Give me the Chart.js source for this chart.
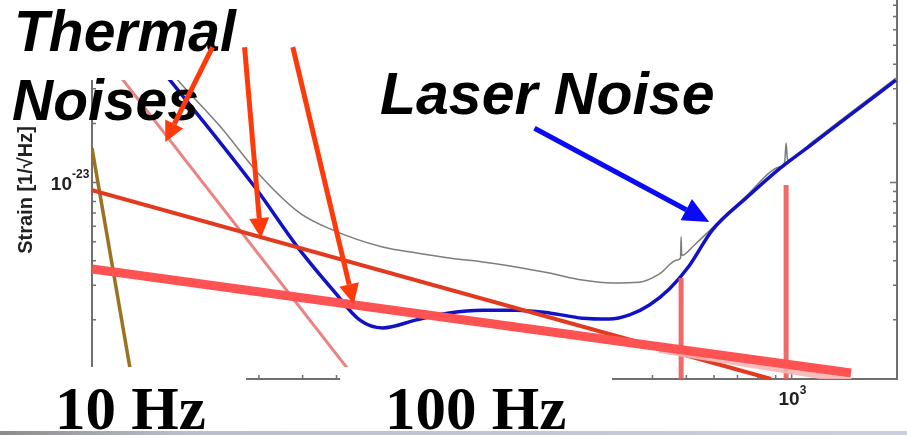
<!DOCTYPE html>
<html>
<head>
<meta charset="utf-8">
<title>Noise budget</title>
<script src="https://cdn.jsdelivr.net/npm/chart.js@4.4.0/dist/chart.umd.min.js"></script>
<style>
html,body{margin:0;padding:0;background:#fff;}
#wrap{width:907px;height:435px;position:relative;overflow:hidden;}
</style>
</head>
<body>
<div id="wrap"><canvas id="noiseChart" width="907" height="435"></canvas></div>
<script>
// frequency in Hz, strain in 1/sqrt(Hz)
var totalFreq   = [10.5, 17.6, 23.2, 30.2, 39.3, 48.8, 67.7, 84.7, 105, 131, 163, 203, 252, 307, 367, 418, 471, 481, 483, 485, 527, 593, 741, 920, 955, 964, 973, 1144, 1430, 1986];
var totalStrain = [1.0e-22, 3.32e-23, 1.94e-23, 1.09e-23, 6.99e-24, 5.73e-24, 4.70e-24, 4.38e-24, 4.13e-24, 3.94e-24, 3.72e-24, 3.46e-24, 3.19e-24, 3.08e-24, 3.11e-24, 3.42e-24, 4.03e-24, 4.12e-24, 5.3e-24, 4.25e-24, 4.81e-24, 5.87e-24, 8.54e-24, 1.20e-23, 1.27e-23, 1.59e-23, 1.30e-23, 1.608e-23, 2.18e-23, 3.40e-23];

var laserFreq   = [10, 16.7, 29.2, 39.3, 48.8, 58.2, 67.7, 84.7, 105, 131, 163, 203, 252, 301, 344, 392, 447, 509, 593, 741, 920, 1144, 1430, 1986];
var laserStrain = [1.0e-22, 3.32e-23, 9.49e-24, 4.53e-24, 2.84e-24, 2.00e-24, 1.82e-24, 2.00e-24, 2.17e-24, 2.24e-24, 2.24e-24, 2.17e-24, 2.04e-24, 2.02e-24, 2.12e-24, 2.38e-24, 2.87e-24, 3.76e-24, 5.73e-24, 8.34e-24, 1.171e-23, 1.571e-23, 2.13e-23, 3.32e-23];

var seismicFreq   = [10, 13.0];
var seismicStrain = [1.498e-23, 1.0e-24];

var suspFreq   = [10, 56.7];
var suspStrain = [5.31e-23, 1.0e-24];

var thermalFreq   = [10, 873];
var thermalStrain = [9.16e-24, 1.0e-24];

var coatingFreq   = [10, 1478];
var coatingStrain = [3.63e-24, 1.073e-24];

var coatingShadeFreq   = [418, 1478];
var coatingShadeStrain = [1.405e-24, 0.977e-24];

var violinFreq = [483, 964];
var violinTop  = [3.27e-24, 9.71e-24];

// axis ticks
var xMajor = [10, 100, 1000];
var xMinor = [20, 30, 40, 50, 60, 70, 80, 90, 200, 300, 400, 500, 600, 700, 800, 900, 2000];
var yMajor = [1e-24, 1e-23];
var yMinor = [2e-24, 3e-24, 4e-24, 5e-24, 6e-24, 7e-24, 8e-24, 9e-24, 2e-23, 3e-23, 4e-23, 5e-23, 6e-23, 7e-23, 8e-23];
var yLabelValue = [1e-23];
var yLabelExp   = ['-23'];
var xLabelValue = [1000];
var xLabelExp   = ['3'];

// annotation arrows, in data units
var redArrowFromF = [22.1, 27.3, 37.5];
var redArrowFromH = [4.89e-23, 4.89e-23, 4.89e-23];
var redArrowToF   = [16.2, 30.4, 56.0];
var redArrowToH   = [1.61e-23, 5.22e-24, 2.41e-24];
var blueArrowFrom = [184, 1.89e-23];
var blueArrowTo   = [581, 6.30e-24];

function pts(fs, hs){
  var out = [];
  for(var i=0;i<fs.length;i++){ out.push({x: fs[i], y: hs[i]}); }
  return out;
}

function lineSet(data, color, width, order, smooth){
  return {
    data: data,
    showLine: true,
    borderColor: color,
    backgroundColor: color,
    borderWidth: width,
    pointRadius: 0,
    pointHoverRadius: 0,
    fill: false,
    clip: 0,
    order: order,
    cubicInterpolationMode: smooth ? 'monotone' : 'default',
    tension: 0,
    borderCapStyle: 'butt'
  };
}

var datasets = [
  lineSet(pts(totalFreq, totalStrain), '#7d7d7d', 1.5, 10, true),
  lineSet(pts(laserFreq, laserStrain), '#1212c4', 3.5, 9, true),
  lineSet(pts(seismicFreq, seismicStrain), '#9a7222', 3.5, 8, false),
  lineSet(pts(suspFreq, suspStrain), '#e88484', 3, 7, false)
];
for(var v=0; v<violinFreq.length; v++){
  datasets.push(lineSet([{x: violinFreq[v], y: violinTop[v]}, {x: violinFreq[v], y: 1e-24}], 'rgba(240,90,90,0.9)', 5, 6, false));
}
datasets.push(lineSet(pts(thermalFreq, thermalStrain), '#e2391f', 4, 4, false));
datasets.push(lineSet(pts(coatingShadeFreq, coatingShadeStrain), 'rgba(248,180,180,0.9)', 6, 3, false));
datasets.push(lineSet(pts(coatingFreq, coatingStrain), '#ff5252', 9, 2, false));

function arrow(ctx, x1, y1, x2, y2, color, w, head, half){
  var ang = Math.atan2(y2 - y1, x2 - x1);
  var bx = x2 - head * Math.cos(ang), by = y2 - head * Math.sin(ang);
  ctx.strokeStyle = color; ctx.lineWidth = w; ctx.lineCap = 'butt';
  ctx.beginPath(); ctx.moveTo(x1, y1); ctx.lineTo(bx, by); ctx.stroke();
  ctx.fillStyle = color;
  ctx.beginPath();
  ctx.moveTo(x2, y2);
  ctx.lineTo(bx + half * Math.sin(ang), by - half * Math.cos(ang));
  ctx.lineTo(bx - half * Math.sin(ang), by + half * Math.cos(ang));
  ctx.closePath(); ctx.fill();
}

var framePlugin = {
  id: 'frame',
  beforeDatasetsDraw: function(chart){
    var ctx = chart.ctx, a = chart.chartArea, xs = chart.scales.x, ys = chart.scales.y;
    ctx.save();
    ctx.strokeStyle = '#707070';
    ctx.lineWidth = 2;
    ctx.beginPath();
    ctx.moveTo(a.left, a.top); ctx.lineTo(a.left, a.bottom);
    ctx.lineTo(a.right, a.bottom); ctx.lineTo(a.right, a.top);
    ctx.stroke();
    ctx.lineWidth = 1.5;
    ctx.beginPath();
    var i, px, py;
    for(i=0;i<xMajor.length;i++){ px = xs.getPixelForValue(xMajor[i]); ctx.moveTo(px, a.bottom); ctx.lineTo(px, a.bottom - 7); }
    for(i=0;i<xMinor.length;i++){ px = xs.getPixelForValue(xMinor[i]); ctx.moveTo(px, a.bottom); ctx.lineTo(px, a.bottom - 4); }
    for(i=0;i<yMajor.length;i++){
      py = ys.getPixelForValue(yMajor[i]);
      ctx.moveTo(a.left, py); ctx.lineTo(a.left + 7, py);
      ctx.moveTo(a.right, py); ctx.lineTo(a.right - 7, py);
    }
    for(i=0;i<yMinor.length;i++){
      py = ys.getPixelForValue(yMinor[i]);
      ctx.moveTo(a.left, py); ctx.lineTo(a.left + 4, py);
      ctx.moveTo(a.right, py); ctx.lineTo(a.right - 4, py);
    }
    ctx.stroke();

    // tick labels
    ctx.fillStyle = '#222';
    ctx.textBaseline = 'alphabetic';
    for(i=0;i<yLabelValue.length;i++){
      py = ys.getPixelForValue(yLabelValue[i]);
      ctx.font = 'bold 19px "Liberation Sans", Arial, sans-serif';
      ctx.textAlign = 'right';
      ctx.fillText('10', a.left - 20, py + 7);
      ctx.font = 'bold 12px "Liberation Sans", Arial, sans-serif';
      ctx.textAlign = 'left';
      ctx.fillText(yLabelExp[i], a.left - 20, py - 5);
    }
    for(i=0;i<xLabelValue.length;i++){
      px = xs.getPixelForValue(xLabelValue[i]);
      ctx.font = 'bold 19px "Liberation Sans", Arial, sans-serif';
      ctx.textAlign = 'right';
      ctx.fillText('10', px + 8, a.bottom + 26);
      ctx.font = 'bold 12px "Liberation Sans", Arial, sans-serif';
      ctx.textAlign = 'left';
      ctx.fillText(xLabelExp[i], px + 8, a.bottom + 15);
    }

    // axis title
    ctx.save();
    ctx.translate(32, 190);
    ctx.rotate(-Math.PI / 2);
    ctx.font = 'bold 20px "Liberation Sans", Arial, sans-serif';
    ctx.textAlign = 'center';
    ctx.fillStyle = '#222';
    ctx.fillText('Strain [1/\u221AHz]', 0, 0);
    ctx.restore();
    ctx.restore();
  },
  afterDraw: function(chart){
    var ctx = chart.ctx, xs = chart.scales.x, ys = chart.scales.y;
    ctx.save();
    // pasted slide boxes hide parts of the plot
    ctx.fillStyle = '#ffffff';
    ctx.fillRect(0, 0, 250, 80);
    ctx.fillRect(0, 367, 246, 66);
    ctx.fillRect(340, 367, 272, 66);

    var g = ctx.createLinearGradient(0, 0, 907, 0);
    g.addColorStop(0, '#8c8c8c');
    g.addColorStop(0.2, '#b9bfca');
    g.addColorStop(1, '#c9d0dc');
    ctx.fillStyle = g;
    ctx.fillRect(0, 431, 907, 4);

    ctx.fillStyle = '#000';
    ctx.textAlign = 'left';
    ctx.textBaseline = 'alphabetic';
    ctx.font = 'italic bold 57px "Liberation Sans", Arial, sans-serif';
    ctx.fillText('Thermal', 14, 51);
    ctx.fillText('Noises', 12, 120);
    ctx.font = 'italic bold 59px "Liberation Sans", Arial, sans-serif';
    ctx.fillText('Laser Noise', 380, 114);

    ctx.font = 'bold 61px "Liberation Serif", "Times New Roman", serif';
    ctx.fillText('10 Hz', 55, 429);
    ctx.fillText('100 Hz', 385, 429);

    for(var i=0;i<redArrowFromF.length;i++){
      arrow(ctx,
        xs.getPixelForValue(redArrowFromF[i]), ys.getPixelForValue(redArrowFromH[i]),
        xs.getPixelForValue(redArrowToF[i]), ys.getPixelForValue(redArrowToH[i]),
        '#ff3a0a', 5, 20, 10);
    }
    arrow(ctx,
      xs.getPixelForValue(blueArrowFrom[0]), ys.getPixelForValue(blueArrowFrom[1]),
      xs.getPixelForValue(blueArrowTo[0]), ys.getPixelForValue(blueArrowTo[1]),
      '#0a0af5', 5, 26, 12);
    ctx.restore();
  }
};

window.addEventListener('load', function(){
  var c = document.getElementById('noiseChart');
  new Chart(c.getContext('2d'), {
    type: 'scatter',
    data: { datasets: datasets },
    options: {
      responsive: false,
      devicePixelRatio: 1,
      animation: false,
      layout: { padding: { left: 92, right: 10, top: 0, bottom: 56 } },
      plugins: { legend: { display: false }, tooltip: { enabled: false } },
      scales: {
        x: { type: 'logarithmic', min: 10, max: 2000, display: false },
        y: { type: 'logarithmic', min: 1e-24, max: 8.5e-23, display: false }
      }
    },
    plugins: [framePlugin]
  });
});
</script>
</body>
</html>
